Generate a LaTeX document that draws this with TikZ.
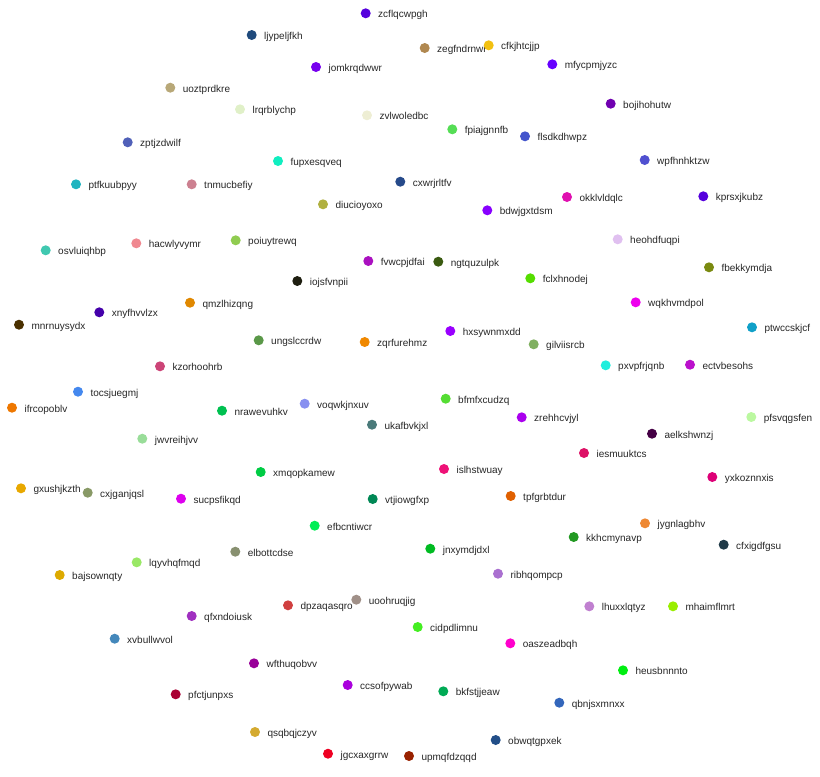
\documentclass[tikz,border=0pt]{standalone}
\usepackage{fontspec}
\setmainfont{Liberation Sans}
\usepackage{xcolor}
\usetikzlibrary{positioning}
\definecolor{labelgray}{HTML}{262626}

\begin{document}
\begin{tikzpicture}[x=0.75pt, y=-0.75pt,
  every node/.style={font=\fontsize{7.5}{9}\selectfont},
  pointdot/.style={circle, inner sep=0pt, minimum size=7.5pt, draw=none},
  pointlabel/.style={inner sep=0pt, text height=0.86em, text depth=0.2em, text=labelgray}]

  % canvas
  \useasboundingbox (0,0) rectangle (820,776);

  % points: x / y / name / colour
  \foreach \px/\py/\pn/\pc in {
    365.7/13.3/zcflqcwpgh/5500DD, 251.7/35/ljypeljfkh/1F4A7C,
    424.7/48/zegfndrnwr/B08850, 488.7/45.3/cfkjhtcjjp/F2C010,
    316/67/jomkrqdwwr/7700EE, 552.3/64.3/mfycpmjyzc/6600FF,
    170.3/87.7/uoztprdkre/B8A878, 610.7/103.7/bojihohutw/7000B0,
    240/109.3/lrqrblychp/E0F0C8, 367/115.3/zvlwoledbc/EEEED4,
    452.3/129.3/fpiajgnnfb/55DD55, 127.7/142.3/zptjzdwilf/5060B8,
    525/136.3/flsdkdhwpz/4455CC, 278/161/fupxesqveq/10EEC0,
    644.7/160/wpfhnhktzw/5050D0, 76/184.3/ptfkuubpyy/20B4C0,
    191.7/184.3/tnmucbefiy/CC8090, 400.3/181.7/cxwrjrltfv/264A8A,
    567/197/okklvldqlc/E010B0, 703.3/196.3/kprsxjkubz/5500DD,
    323/204.3/diucioyoxo/B0B040, 487.3/210.3/bdwjgxtdsm/8800FF,
    617.7/239.3/heohdfuqpi/E0C0F0, 45.7/250.3/osvluiqhbp/40C8B0,
    136.3/243.3/hacwlyvymr/F08890, 235.7/240.3/poiuytrewq/90CC50,
    368.3/261/fvwcpjdfai/AA10C0, 438.3/261.7/ngtquzulpk/3A5A10,
    709/267.3/fbekkymdja/7A8A10, 297.3/281/iojsfvnpii/1E1E10,
    530.3/278.3/fclxhnodej/55DD00, 190/302.7/qmzlhizqng/E08800,
    635.7/302.3/wqkhvmdpol/EE00EE, 99.3/312.3/xnyfhvvlzx/4400AA,
    19/324.7/mnrnuysydx/4A3000, 752/327.3/ptwccskjcf/10A0C8,
    258.7/340.3/ungslccrdw/5A9848, 450.3/331/hxsywnmxdd/9900FF,
    364.7/342/zqrfurehmz/F08800, 533.7/344.3/gilviisrcb/80B060,
    160/366.3/kzorhoohrb/CC4477, 605.7/365.3/pxvpfrjqnb/20EEDD,
    690/364.7/ectvbesohs/BB10CC, 78/391.7/tocsjuegmj/4488EE,
    445.7/398.7/bfmfxcudzq/55DD33, 12/407.7/ifrcopoblv/EE7700,
    222/410.7/nrawevuhkv/00C050, 304.7/403.7/voqwkjnxuv/8890F0,
    521.7/417.3/zrehhcvjyl/AA00EE, 751.3/417/pfsvqgsfen/BBF8A0,
    372/424.7/ukafbvkjxl/4A7A7A, 652/433.7/aelkshwnzj/440044,
    142.3/438.7/jwvreihjvv/99DD99, 584/453/iesmuuktcs/DD1166,
    444/469/islhstwuay/EE1177, 260.7/472/xmqopkamew/00CC44,
    712.3/477/yxkoznnxis/DD0077, 21/488.3/gxushjkzth/E8A800,
    87.7/492.7/cxjganjqsl/889966, 181/498.7/sucpsfikqd/DD00EE,
    372.7/499/vtjiowgfxp/008855, 510.7/496/tpfgrbtdur/E06000,
    645/523.3/jygnlagbhv/EE8833, 314.7/525.7/efbcntiwcr/00EE55,
    573.7/537/kkhcmynavp/229922, 723.7/544.7/cfxigdfgsu/203A48,
    235.3/551.7/elbottcdse/889070, 430.3/548.7/jnxymdjdxl/00BB22,
    136.7/562.3/lqyvhqfmqd/99E866, 498/573.7/ribhqompcp/AA70D0,
    59.7/575/bajsownqty/DDAA00, 288/605.3/dpzaqasqro/D04040,
    356.3/599.7/uoohruqjig/A09088, 589.3/606.3/lhuxxlqtyz/C080D0,
    673/606.3/mhaimflmrt/99EE00, 191.7/616/qfxndoiusk/A030C0,
    417.7/627/cidpdlimnu/44EE22, 114.7/638.7/xvbullwvol/4488BB,
    510.3/643.3/oaszeadbqh/FF00CC, 254/663.3/wfthuqobvv/990099,
    623/670.3/heusbnnnto/00EE11, 347.7/685/ccsofpywab/AA00DD,
    175.7/694.3/pfctjunpxs/AA0033, 443.3/691.3/bkfstjjeaw/00AA55,
    559.3/702.7/qbnjsxmnxx/3366BB, 255/732/qsqbqjczyv/D4AA30,
    495.7/740/obwqtgpxek/224E88, 328/753.7/jgcxaxgrrw/EE0022,
    409/756/upmqfdzqqd/992200} {
    \definecolor{pointcolor}{HTML}{\pc}
    \node[pointdot, fill=pointcolor] (\pn) at (\px,\py) {};
    \node[pointlabel, right=5.25pt of \pn] (\pn-label) {\pn};
  }

\end{tikzpicture}
\end{document}
